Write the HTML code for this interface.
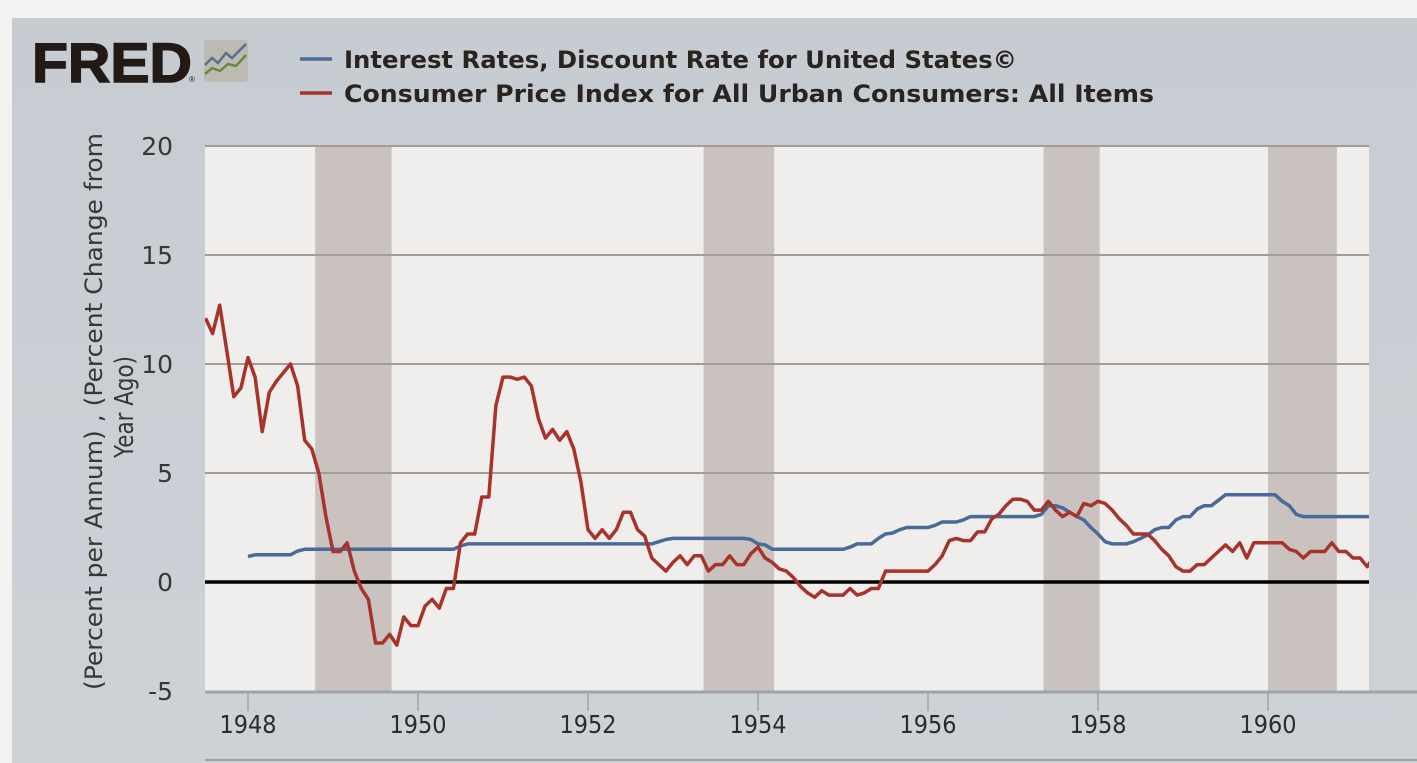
<!DOCTYPE html>
<html><head><meta charset="utf-8"><style>
html,body{margin:0;padding:0;background:#f2f2f2;}
body{width:1417px;height:763px;overflow:hidden;position:relative;font-family:"Liberation Sans",sans-serif;}
#panel{position:absolute;left:12px;top:18px;width:1405px;height:745px;background:linear-gradient(#c6ccd2,#cdd2d7);}
</style></head><body>
<div id="panel"></div>
<svg id="chart" width="1417" height="763" style="position:absolute;left:0;top:0">
<g>
<text x="32" y="82" font-family="Liberation Sans" font-weight="bold" font-size="56" fill="#231a16" textLength="160" lengthAdjust="spacingAndGlyphs" stroke="#231a16" stroke-width="1.5">FRED</text>
<text x="189" y="82" font-size="8" fill="#231a16">®</text>
<rect x="204" y="40" width="44" height="42" rx="3" fill="#bdbab3"/>
<polyline points="205,65 212,58 218,63 226,53 232,58 246,44" fill="none" stroke="#55718a" stroke-width="2.5"/>
<polyline points="205,74 212,68 220,71 228,64 236,66 246,55" fill="none" stroke="#6a8a3a" stroke-width="2.5"/>
</g>
<g>
<line x1="300" y1="59" x2="332" y2="59" stroke="#4a6a98" stroke-width="3.5"/>
<text x="344" y="68" font-family="DejaVu Sans" font-size="24" font-weight="bold" fill="#2a2421" textLength="673" lengthAdjust="spacingAndGlyphs">Interest Rates, Discount Rate for United States©</text>
<line x1="300" y1="93" x2="332" y2="93" stroke="#a8332b" stroke-width="3.5"/>
<text x="344" y="102" font-family="DejaVu Sans" font-size="24" font-weight="bold" fill="#2a2421" textLength="810" lengthAdjust="spacingAndGlyphs">Consumer Price Index for All Urban Consumers: All Items</text>
</g>
<g>
<text transform="translate(102,690) rotate(-90)" font-family="DejaVu Sans" font-size="24" fill="#3a3634" textLength="557" lengthAdjust="spacingAndGlyphs">(Percent per Annum) , (Percent Change from</text>
<text transform="translate(133,458) rotate(-90)" font-family="DejaVu Sans" font-size="26" fill="#3a3634" textLength="102" lengthAdjust="spacingAndGlyphs">Year Ago)</text>
</g>
<g id="plot"></g>
</svg>
<script>
const startYear = 1947.5;
const recessions = [[1948.79,1949.69],[1953.36,1954.19],[1957.36,1958.02],[1960.0,1960.81]];
const yTicks = [-5,0,5,10,15,20];
const xTicks = [1948,1950,1952,1954,1956,1958,1960];
const cpi = [12.1,11.4,12.7,10.6,8.5,8.9,10.3,9.4,6.9,8.7,9.2,9.6,10.0,9.0,6.5,6.1,5.0,3.0,1.4,1.4,1.8,0.5,-0.3,-0.8,-2.8,-2.8,-2.4,-2.9,-1.6,-2.0,-2.0,-1.1,-0.8,-1.2,-0.3,-0.3,1.8,2.2,2.2,3.9,3.9,8.1,9.4,9.4,9.3,9.4,9.0,7.5,6.6,7.0,6.5,6.9,6.1,4.6,2.4,2.0,2.4,2.0,2.4,3.2,3.2,2.4,2.1,1.1,0.8,0.5,0.9,1.2,0.8,1.2,1.2,0.5,0.8,0.8,1.2,0.8,0.8,1.3,1.6,1.1,0.9,0.6,0.5,0.2,-0.2,-0.5,-0.7,-0.4,-0.6,-0.6,-0.6,-0.3,-0.6,-0.5,-0.3,-0.3,0.5,0.5,0.5,0.5,0.5,0.5,0.5,0.8,1.2,1.9,2.0,1.9,1.9,2.3,2.3,2.9,3.1,3.5,3.8,3.8,3.7,3.3,3.3,3.7,3.3,3.0,3.2,3.0,3.6,3.5,3.7,3.6,3.3,2.9,2.6,2.2,2.2,2.2,1.9,1.5,1.2,0.7,0.5,0.5,0.8,0.8,1.1,1.4,1.7,1.4,1.8,1.1,1.8,1.8,1.8,1.8,1.8,1.5,1.4,1.1,1.4,1.4,1.4,1.8,1.4,1.4,1.1,1.1,0.7,1.2];
const discountStart = 6;
const discount = [1.17,1.25,1.25,1.25,1.25,1.25,1.25,1.42,1.5,1.5,1.5,1.5,1.5,1.5,1.5,1.5,1.5,1.5,1.5,1.5,1.5,1.5,1.5,1.5,1.5,1.5,1.5,1.5,1.5,1.5,1.65,1.75,1.75,1.75,1.75,1.75,1.75,1.75,1.75,1.75,1.75,1.75,1.75,1.75,1.75,1.75,1.75,1.75,1.75,1.75,1.75,1.75,1.75,1.75,1.75,1.75,1.75,1.75,1.85,1.95,2.0,2.0,2.0,2.0,2.0,2.0,2.0,2.0,2.0,2.0,2.0,1.95,1.75,1.7,1.5,1.5,1.5,1.5,1.5,1.5,1.5,1.5,1.5,1.5,1.5,1.6,1.75,1.75,1.75,2.0,2.2,2.25,2.4,2.5,2.5,2.5,2.5,2.6,2.75,2.75,2.75,2.85,3.0,3.0,3.0,3.0,3.0,3.0,3.0,3.0,3.0,3.0,3.1,3.5,3.5,3.4,3.2,3.0,2.85,2.5,2.2,1.85,1.75,1.75,1.75,1.85,2.0,2.15,2.4,2.5,2.5,2.85,3.0,3.0,3.35,3.5,3.5,3.75,4.0,4.0,4.0,4.0,4.0,4.0,4.0,4.0,3.7,3.5,3.1,3.0,3.0,3.0,3.0,3.0,3.0,3.0,3.0,3.0,3.0,3.0];

const L=205,R=1369,T=146,B=691;
const X=t=>248+(t-1948)*85;
const Y=v=>582-v*21.8;
const NS='http://www.w3.org/2000/svg';
const plot=document.getElementById('plot');
function mk(tag,attrs,parent){const e=document.createElementNS(NS,tag);for(const k in attrs)e.setAttribute(k,attrs[k]);(parent||plot).appendChild(e);return e;}
const defs=mk('defs',{});
const cp=mk('clipPath',{id:'clip'},defs);mk('rect',{x:L,y:T-5,width:R-L,height:B-T+10},cp);
const bg=mk('rect',{x:L,y:T,width:R-L,height:B-T,fill:'#efeeed'});


recessions.forEach(r=>{
  const x1=Math.max(L,X(r[0])),x2=Math.min(R,X(r[1]));
  const e=mk('rect',{x:x1,y:T,width:x2-x1,height:B-T,fill:'#c9c2be'});
  
  
});
yTicks.forEach(v=>{
  if(v!==-5&&v!==0){
    const g=mk('line',{x1:L,x2:R,y1:Y(v),y2:Y(v),stroke:'#a39c99','stroke-width':2});
    
    
  }
  const t=mk('text',{x:173,y:Y(v)+9,'text-anchor':'end','font-size':25,'font-family':'DejaVu Sans',fill:'#3a3634'});
  t.textContent=v;
  
  
});
const ax=mk('line',{x1:L,x2:1417,y1:B+1,y2:B+1,stroke:'#9ea4ab','stroke-width':3});


xTicks.forEach(yr=>{
  const tk=mk('line',{x1:X(yr),x2:X(yr),y1:B,y2:B+20,stroke:'#9ea4ab','stroke-width':1.5});
  
  
  const t=mk('text',{x:X(yr),y:B+42,'text-anchor':'middle','font-size':25,'font-family':'DejaVu Sans',fill:'#2f2b29',textLength:57,lengthAdjust:'spacingAndGlyphs'});
  t.textContent=yr;
  
  
});
const bl=mk('line',{x1:L,x2:1417,y1:760,y2:760,stroke:'#a89c9c','stroke-width':2});


const zl=mk('line',{x1:L,x2:R,y1:Y(0),y2:Y(0),stroke:'#000','stroke-width':3.5});


const ptsD=discount.map((v,i)=>X(startYear+(i+discountStart)/12).toFixed(1)+','+Y(v).toFixed(1)).join(' ');
const dl=mk('polyline',{points:ptsD,fill:'none',stroke:'#4a6a98','stroke-width':3.5,'stroke-linejoin':'round','clip-path':'url(#clip)'});


const ptsC=cpi.map((v,i)=>X(startYear+i/12).toFixed(1)+','+Y(v).toFixed(1)).join(' ');
const cl=mk('polyline',{points:ptsC,fill:'none',stroke:'#a8332b','stroke-width':3.5,'stroke-linejoin':'round','clip-path':'url(#clip)'});


</script>
</body></html>
